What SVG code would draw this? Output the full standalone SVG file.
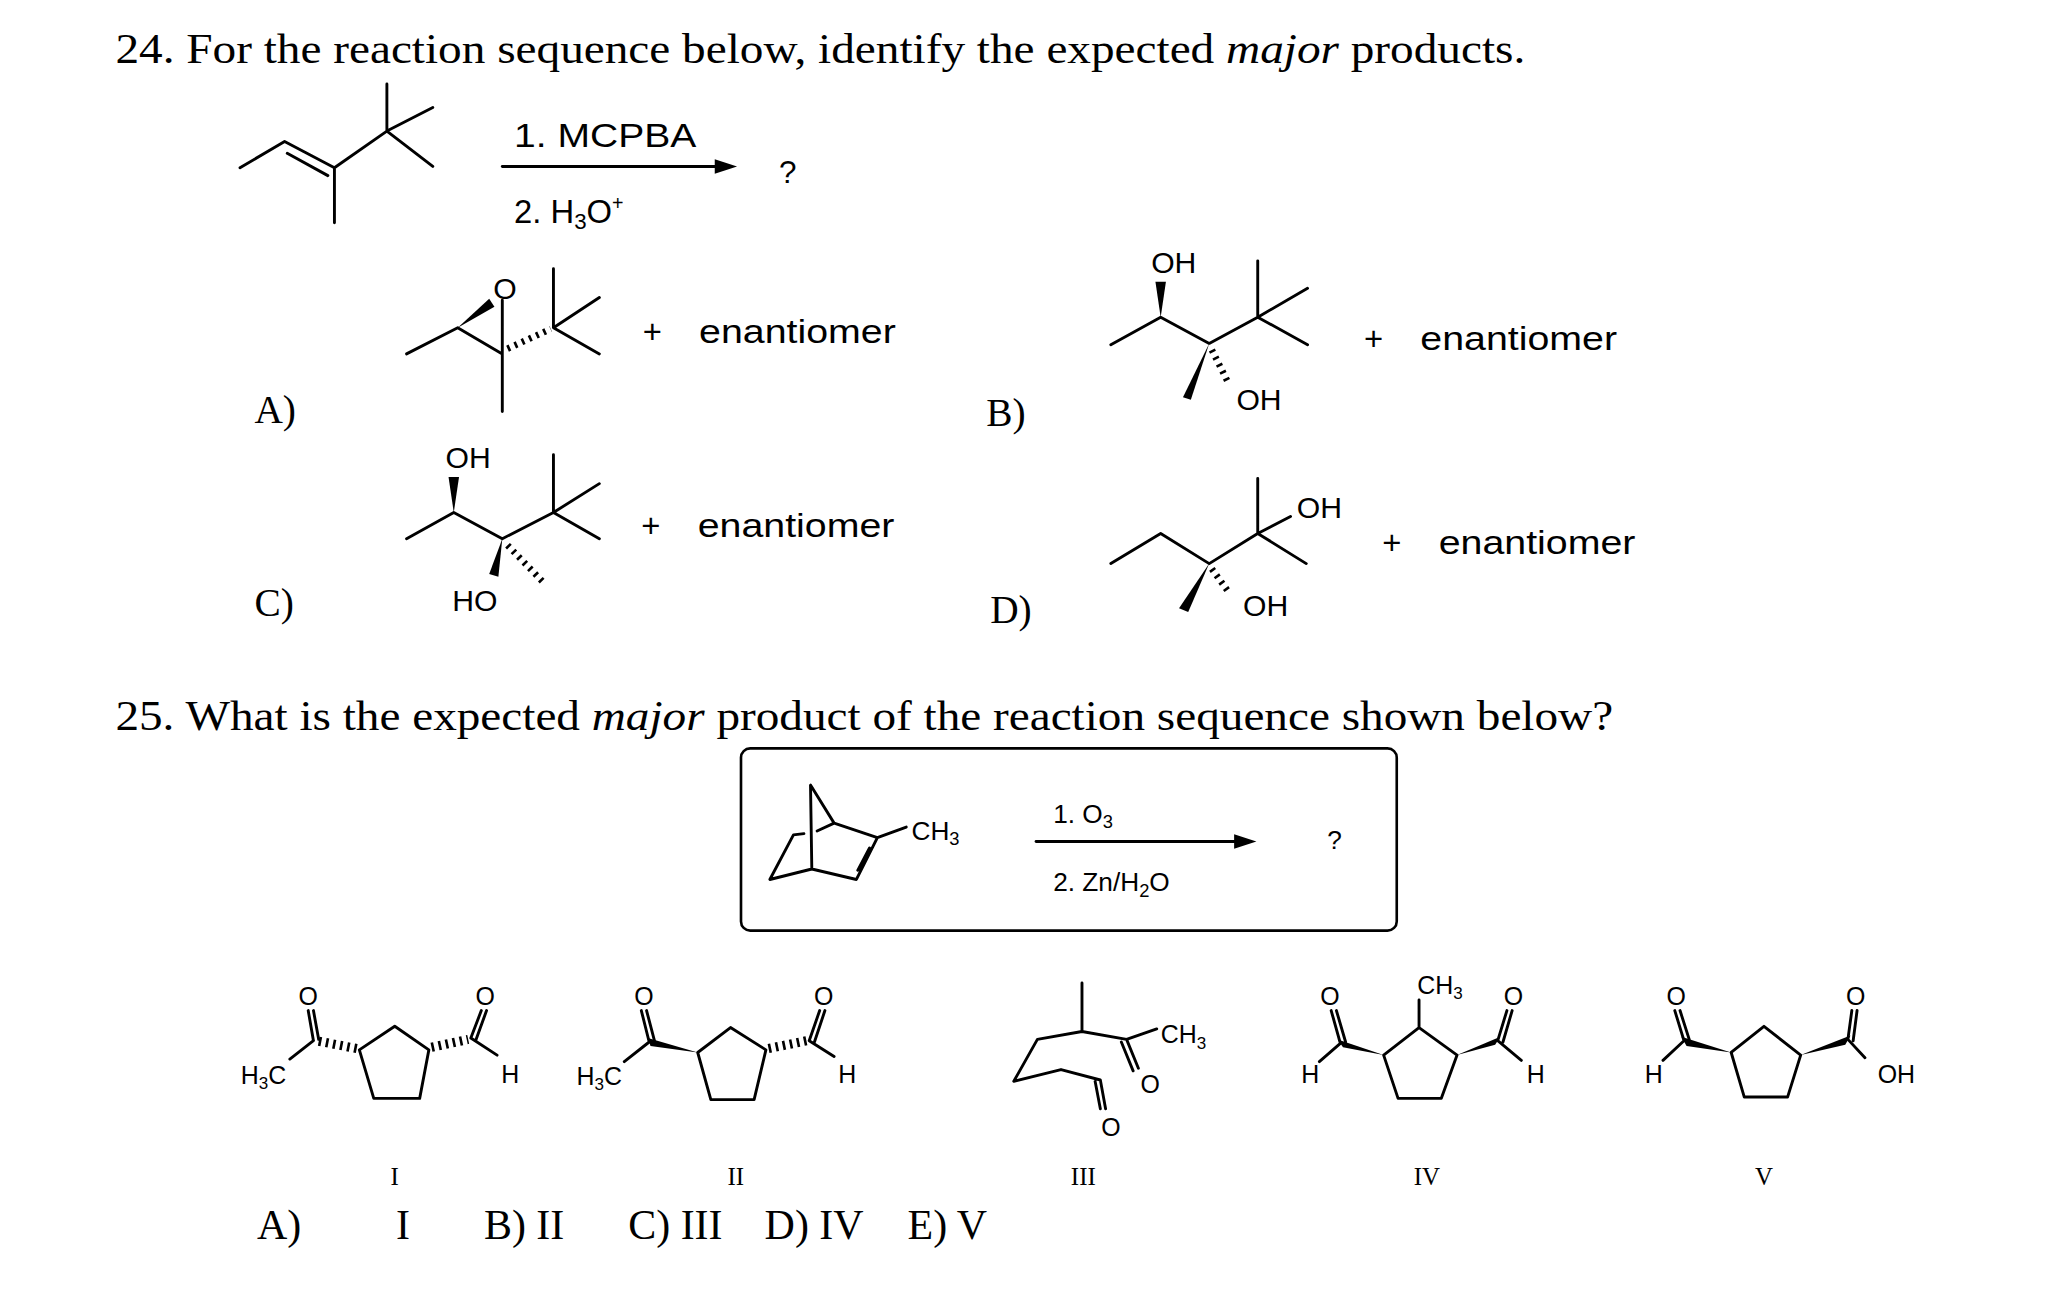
<svg xmlns="http://www.w3.org/2000/svg" width="2046" height="1291" viewBox="0 0 2046 1291">
<style>
.b{stroke:#000;stroke-width:2.2;fill:none;stroke-linecap:round;stroke-linejoin:round}
.h{stroke:#000;stroke-width:7;fill:none;stroke-dasharray:2 3.5}
.hs{stroke:#000;stroke-width:5;fill:none;stroke-dasharray:2 4}
.w{fill:#000}
.s{font-family:"Liberation Serif","Times New Roman",serif;fill:#000}
.a{font-family:"Liberation Sans",Arial,sans-serif;fill:#000}
</style>
<rect width="2046" height="1291" fill="#fff"/>
<g transform="scale(1.3115 1.3107)">
<g id="q24-title"><text class="s" x="88" y="48" font-size="32" textLength="1075" lengthAdjust="spacingAndGlyphs">24. For the reaction sequence below, identify the expected <tspan font-style="italic">major</tspan> products.</text></g>

<g id="q24-reactant">
<path class="b" d="M183,128 L217,108 L255,128 L295,100 L295,64 M295,100 L330,82 M295,100 L330,127 M255,128 L255,170 M219,117 L250,134"/>
</g>
<g id="connectors">
<line class="b" x1="383" y1="127" x2="548" y2="127"/>
<polygon class="w" points="562,127 545,121.5 545,132.5"/>
<line class="b" x1="790" y1="642" x2="942" y2="642" stroke-width="2.6"/>
<polygon class="w" points="958,642 941,636.5 941,647.5"/>
</g>
<g id="q24-conditions">
<text class="a" x="392" y="112" font-size="25" textLength="139" lengthAdjust="spacingAndGlyphs">1. MCPBA</text>
<text class="a" x="392" y="170" font-size="25">2. H<tspan font-size="17" dy="5">3</tspan><tspan dy="-5">O</tspan><tspan font-size="15" dy="-10">+</tspan></text>
<text class="a" x="594" y="140" font-size="24">?</text>
</g>

<g id="optA">
<text class="s" x="194" y="323" font-size="30">A)</text>
<path class="b" d="M310,270 L349,250 L383,270 L383,314 M383,229 L383,270 M422,250 L422,205 M422,250 L457,227 M422,250 L457,270"/>
<polygon class="w" points="349,250 373,228 377,234"/>
<line class="hs" x1="387" y1="266" x2="420" y2="251"/>
<text class="a" x="385" y="228" font-size="23" text-anchor="middle">O</text>
<text class="a" x="490" y="262" font-size="25">+</text>
<text class="a" x="533" y="262" font-size="25" textLength="150" lengthAdjust="spacingAndGlyphs">enantiomer</text>
</g>

<g id="optB">
<text class="s" x="752" y="325" font-size="30">B)</text>
<path class="b" d="M847,263 L885,242 L922,262 L959,242 L959,199 M959,242 L997,220 M959,242 L997,263"/>
<polygon class="w" points="885,242 881,215 889,215"/>
<polygon class="w" points="922,262 908,305 902,303"/>
<line class="hs" x1="924" y1="267" x2="936" y2="291"/>
<text class="a" x="895" y="208" font-size="23" text-anchor="middle">OH</text>
<text class="a" x="960" y="313" font-size="23" text-anchor="middle">OH</text>
<text class="a" x="1040" y="267" font-size="25">+</text>
<text class="a" x="1083" y="267" font-size="25" textLength="150" lengthAdjust="spacingAndGlyphs">enantiomer</text>
</g>

<g id="optC">
<text class="s" x="194" y="470" font-size="30">C)</text>
<path class="b" d="M310,411 L346,391 L383,411 L422,391 L422,347 M422,391 L457,369 M422,391 L457,411"/>
<polygon class="w" points="346,391 342,364 350,364"/>
<polygon class="w" points="383,411 380,440 373,438"/>
<line class="hs" x1="387" y1="416" x2="414" y2="444"/>
<text class="a" x="357" y="357" font-size="23" text-anchor="middle">OH</text>
<text class="a" x="362" y="466" font-size="23" text-anchor="middle">HO</text>
<text class="a" x="489" y="410" font-size="25">+</text>
<text class="a" x="532" y="410" font-size="25" textLength="150" lengthAdjust="spacingAndGlyphs">enantiomer</text>
</g>

<g id="optD">
<text class="s" x="755" y="475" font-size="30">D)</text>
<path class="b" d="M847,430 L885,407 L922,430 L959,407 L959,365 M959,407 L996,430 M959,407 L984,394"/>
<polygon class="w" points="922,430 906,467 899,464"/>
<line class="hs" x1="924" y1="434" x2="937" y2="452"/>
<text class="a" x="1006" y="395" font-size="23" text-anchor="middle">OH</text>
<text class="a" x="965" y="470" font-size="23" text-anchor="middle">OH</text>
<text class="a" x="1054" y="423" font-size="25">+</text>
<text class="a" x="1097" y="423" font-size="25" textLength="150" lengthAdjust="spacingAndGlyphs">enantiomer</text>
</g>

<g id="q25-title"><text class="s" x="88" y="557" font-size="32" textLength="1142" lengthAdjust="spacingAndGlyphs">25. What is the expected <tspan font-style="italic">major</tspan> product of the reaction sequence shown below?</text></g>

<g id="q25-box">
<rect x="565" y="571" width="500" height="139" rx="7" fill="none" stroke="#000" stroke-width="2"/>
<path class="b" d="M618,599 L636,628 L669,639 L653,671 L619,663 L587,671 L605,637 L613,636 M623,634 L636,628 M618,599 L619,663 M669,639 L691,631 M663,647 L654,664"/>
<text class="a" x="695" y="641" font-size="20">CH<tspan font-size="14" dy="4">3</tspan></text>
<text class="a" x="803" y="628" font-size="20">1. O<tspan font-size="14" dy="4">3</tspan></text>
<text class="a" x="803" y="680" font-size="20">2. Zn/H<tspan font-size="14" dy="4">2</tspan><tspan dy="-4">O</tspan></text>
<text class="a" x="1012" y="648" font-size="20">?</text>
</g>

<g id="prodI">
<path class="b" d="M301,783 L327,801 L320,838 L285,838 L274,801 Z M239,794 L221,808 M239,794 L235,771 M243,793 L239,771 M359,792 L367,771 M363,793 L371,771 M359,792 L379,805"/>
<line class="h" x1="272" y1="800" x2="241" y2="794"/>
<line class="h" x1="329" y1="799" x2="357" y2="793"/>
<text class="a" x="235" y="767" font-size="19" text-anchor="middle">O</text>
<text class="a" x="370" y="767" font-size="19" text-anchor="middle">O</text>
<text class="a" x="201" y="827" font-size="19" text-anchor="middle">H<tspan font-size="13" dy="4">3</tspan><tspan dy="-4">C</tspan></text>
<text class="a" x="389" y="826" font-size="19" text-anchor="middle">H</text>
<text class="s" x="301" y="904" font-size="19" text-anchor="middle">I</text>
</g>

<g id="prodII">
<path class="b" d="M557,784 L584,801 L575,839 L542,839 L532,803 Z M495,795 L476,810 M495,795 L489,771 M499,794 L493,771 M617,794 L625,771 M621,795 L629,771 M617,794 L636,806"/>
<polygon class="w" points="532,803 494,792 496,798"/>
<line class="h" x1="586" y1="800" x2="615" y2="794"/>
<text class="a" x="491" y="767" font-size="19" text-anchor="middle">O</text>
<text class="a" x="628" y="767" font-size="19" text-anchor="middle">O</text>
<text class="a" x="457" y="828" font-size="19" text-anchor="middle">H<tspan font-size="13" dy="4">3</tspan><tspan dy="-4">C</tspan></text>
<text class="a" x="646" y="826" font-size="19" text-anchor="middle">H</text>
<text class="s" x="561" y="904" font-size="19" text-anchor="middle">II</text>
</g>

<g id="prodIII">
<path class="b" d="M825,750 L825,787 L791,793 L773,825 L809,816 L839,824 L843,846 M835,825 L839,846 M825,787 L859,793 L882,785 M859,793 L868,815 M855,795 L864,817"/>
<text class="a" x="847" y="867" font-size="19" text-anchor="middle">O</text>
<text class="a" x="877" y="834" font-size="19" text-anchor="middle">O</text>
<text class="a" x="885" y="796" font-size="19">CH<tspan font-size="13" dy="4">3</tspan></text>
<text class="s" x="826" y="904" font-size="19" text-anchor="middle">III</text>
</g>

<g id="prodIV">
<path class="b" d="M1082,784 L1111,805 L1099,838 L1066,838 L1055,805 Z M1082,784 L1082,763 M1022,796 L1015,771 M1026,795 L1019,771 M1022,796 L1006,810 M1142,794 L1149,771 M1146,795 L1153,771 M1142,794 L1160,809"/>
<polygon class="w" points="1055,805 1020,793 1024,799"/>
<polygon class="w" points="1111,805 1144,791 1140,797"/>
<text class="a" x="1014" y="767" font-size="19" text-anchor="middle">O</text>
<text class="a" x="1154" y="767" font-size="19" text-anchor="middle">O</text>
<text class="a" x="1098" y="758" font-size="19" text-anchor="middle">CH<tspan font-size="13" dy="4">3</tspan></text>
<text class="a" x="999" y="826" font-size="19" text-anchor="middle">H</text>
<text class="a" x="1171" y="826" font-size="19" text-anchor="middle">H</text>
<text class="s" x="1088" y="904" font-size="19" text-anchor="middle">IV</text>
</g>

<g id="prodV">
<path class="b" d="M1345,783 L1373,805 L1363,837 L1330,837 L1320,803 Z M1284,794 L1277,771 M1288,793 L1281,771 M1284,794 L1268,809 M1409,793 L1412,771 M1413,794 L1416,771 M1409,793 L1422,807"/>
<polygon class="w" points="1320,803 1282,791 1286,798"/>
<polygon class="w" points="1373,805 1411,790 1407,797"/>
<text class="a" x="1278" y="767" font-size="19" text-anchor="middle">O</text>
<text class="a" x="1415" y="767" font-size="19" text-anchor="middle">O</text>
<text class="a" x="1261" y="826" font-size="19" text-anchor="middle">H</text>
<text class="a" x="1446" y="826" font-size="19" text-anchor="middle">OH</text>
<text class="s" x="1345" y="904" font-size="19" text-anchor="middle">V</text>
</g>

<g id="answers">
<text class="s" x="196" y="945" font-size="32">A)</text>
<text class="s" x="302" y="945" font-size="32">I</text>
<text class="s" x="369" y="945" font-size="32">B) II</text>
<text class="s" x="479" y="945" font-size="32">C) III</text>
<text class="s" x="583" y="945" font-size="32">D) IV</text>
<text class="s" x="692" y="945" font-size="32">E) V</text>
</g>
</g>
</svg>
